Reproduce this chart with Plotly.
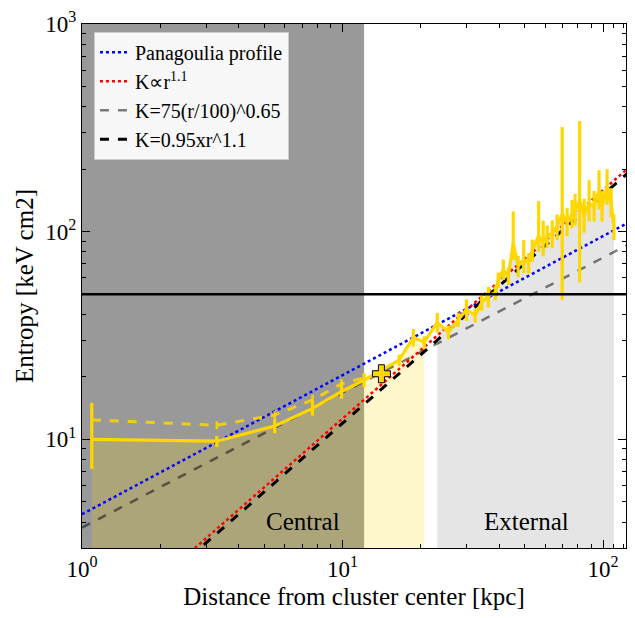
import plotly.graph_objects as go

# ---- data ----
r_data = [1.09, 3.29, 5.49, 7.67, 9.91, 12.1, 16.5, 18.7, 20.6, 23.1, 25.5, 27.8, 29.9, 32.3, 34.2,
          36.3, 38.6, 39.6, 41.4, 43.3, 45.2, 47.2, 49.6, 51.8, 53.5, 56.6, 58.9, 61.0, 63.8,
          66.6, 69.7, 72.8, 76.0, 78.1, 81.3, 84.6, 88.4, 92.4, 96.5, 99.1, 103.6, 107.4, 110.0]
K_data = [10.0, 9.8, 11.6, 14.1, 17.0, 19.3, 24.1, 31.0, 29.4, 36.6, 32.8, 37.8, 42.2, 39.5, 45.6,
          49.2, 50.8, 58.6, 65.5, 61.4, 88.1, 68.4, 73.1, 70.8, 81.6, 95.3, 88.1, 95.3, 98.4,
          106, 122, 110, 122, 127, 141, 119, 137, 132, 158, 132, 165, 137, 106]
K_err_hi = [5.0, 0.6, 0.9, 1.1, 1.3, 1.5, 1.5, 3, 2, 4, 2.5, 3, 5, 3, 4,
            5, 4, 5, 8, 6, 37, 8, 18, 8, 10, 45, 25, 12, 15,
            15, 197, 20, 20, 25, 200, 25, 40, 25, 40, 25, 35, 25, 15]
K_err_lo = [2.8, 0.6, 0.9, 1.1, 1.3, 1.5, 1.5, 3, 2, 4, 2.5, 3, 5, 3, 4,
            6, 4, 5, 7, 6, 15, 8, 10, 8, 10, 15, 12, 12, 15,
            15, 75, 15, 18, 20, 84, 20, 25, 20, 30, 20, 30, 20, 15]

r_dash = [1.09, 3.29, 5.49, 7.67, 9.91, 12.1]
K_dash = [12.4, 11.7, 13.1, 15.5, 18.5, 19.8]
K_dash_err = [0.0, 0.5, 0.6, 0.9, 1.0, 1.0]

r_marker = [14.1]
K_marker = [20.7]

central_max_r = 20.6
external_min_r = 23.1
core_span = [1.0, 12.1]
K_threshold = 50

r_model = [1.0, 125.0]
K_panagoulia = [4.36, 110.6]
K_prop = [1.0, 202.6]
K_75 = [3.76, 86.7]
K_095 = [0.95, 192.5]

x_ticks = [1, 10, 100]
x_ticktext = ["10<sup>0</sup>", "10<sup>1</sup>", "10<sup>2</sup>"]
y_ticks = [10, 100, 1000]
y_ticktext = ["10<sup>1</sup>", "10<sup>2</sup>", "10<sup>3</sup>"]
x_minor = [2, 3, 4, 5, 6, 7, 8, 9, 20, 30, 40, 50, 60, 70, 80, 90, 110, 120]
y_minor = [3, 4, 5, 6, 7, 8, 9, 20, 30, 40, 50, 60, 70, 80, 90,
           200, 300, 400, 500, 600, 700, 800, 900]

FONT = "Liberation Serif, Times New Roman, serif"
GOLD = "#FFD700"

fig = go.Figure()

# fills under the profile
rc = [r for r in r_data if r <= central_max_r]
kc = [k for r, k in zip(r_data, K_data) if r <= central_max_r]
fig.add_trace(go.Scatter(x=rc + rc[::-1], y=kc + [1.0] * len(rc), fill="toself",
                         fillcolor="rgba(255,215,0,0.2)", line=dict(width=0),
                         mode="lines", showlegend=False, hoverinfo="skip"))
re_ = [r for r in r_data if r >= external_min_r]
ke = [k for r, k in zip(r_data, K_data) if r >= external_min_r]
fig.add_trace(go.Scatter(x=re_ + re_[::-1], y=ke + [1.0] * len(re_), fill="toself",
                         fillcolor="#e5e5e5", line=dict(width=0),
                         mode="lines", showlegend=False, hoverinfo="skip"))

# model lines
fig.add_trace(go.Scatter(x=r_model, y=K_panagoulia, mode="lines", name="Panagoulia profile",
                         line=dict(color="blue", dash="dot", width=2.5)))
fig.add_trace(go.Scatter(x=r_model, y=K_prop, mode="lines", name="K\u221dr<sup>1.1</sup>",
                         line=dict(color="red", dash="dot", width=2.5)))
fig.add_trace(go.Scatter(x=r_model, y=K_75, mode="lines", name="K=75(r/100)^0.65",
                         line=dict(color="rgba(0,0,0,0.5)", dash="dash", width=2.5)))
fig.add_trace(go.Scatter(x=r_model, y=K_095, mode="lines", name="K=0.95xr^1.1",
                         line=dict(color="black", dash="dash", width=3)))

# data
fig.add_trace(go.Scatter(x=r_dash, y=K_dash, mode="lines", showlegend=False,
                         line=dict(color="rgba(255,215,0,0.85)", dash="dash", width=3),
                         error_y=dict(type="data", array=K_dash_err, color="rgba(255,215,0,0.85)",
                                      thickness=2.5, width=0)))
fig.add_trace(go.Scatter(x=r_data, y=K_data, mode="lines", showlegend=False,
                         line=dict(color=GOLD, width=3.2),
                         error_y=dict(type="data", array=K_err_hi, arrayminus=K_err_lo,
                                      color=GOLD, thickness=3.2, width=0)))
fig.add_trace(go.Scatter(x=r_marker, y=K_marker, mode="markers", showlegend=False,
                         marker=dict(symbol="cross", size=15, color=GOLD,
                                     line=dict(color="black", width=1))))

# core span & threshold
fig.add_shape(type="rect", xref="x", yref="paper", x0=core_span[0], x1=core_span[1], y0=0, y1=1,
              fillcolor="#999999", line=dict(width=0), layer="below")
fig.add_shape(type="line", xref="paper", yref="y", x0=0, x1=1, y0=K_threshold, y1=K_threshold,
              line=dict(color="black", width=2.5), layer="above")

fig.add_annotation(x=0.407, y=0.051, xref="paper", yref="paper", text="Central", showarrow=False,
                   xanchor="center", yanchor="middle",
                   font=dict(family=FONT, size=25, color="black"))
fig.add_annotation(x=0.8165, y=0.051, xref="paper", yref="paper", text="External", showarrow=False,
                   xanchor="center", yanchor="middle",
                   font=dict(family=FONT, size=25, color="black"))

axis_common = dict(type="log", showgrid=False, zeroline=False, showline=True, linecolor="black",
                   linewidth=1.2, mirror="allticks", ticks="inside", ticklen=8, tickwidth=1,
                   tickcolor="black", tickfont=dict(family=FONT, size=23, color="black"))

fig.update_xaxes(range=[0, 2.088], tickvals=x_ticks, ticktext=x_ticktext,
                 minor=dict(ticks="inside", ticklen=4, tickcolor="black", tickwidth=1,
                            showgrid=False, tickvals=x_minor),
                 title=dict(text="Distance from cluster center [kpc]",
                            font=dict(family=FONT, size=25, color="black"), standoff=6),
                 **axis_common)
fig.update_yaxes(range=[0.477, 3], tickvals=y_ticks, ticktext=y_ticktext,
                 minor=dict(ticks="inside", ticklen=4, tickcolor="black", tickwidth=1,
                            showgrid=False, tickvals=y_minor),
                 title=dict(text="Entropy [keV cm2]",
                            font=dict(family=FONT, size=25, color="black"), standoff=4),
                 **axis_common)

fig.update_layout(
    width=635, height=618,
    margin=dict(l=82, r=8, t=19, b=70),
    paper_bgcolor="white", plot_bgcolor="white",
    font=dict(family=FONT, color="black"),
    legend=dict(x=0.022, y=0.985, xanchor="left", yanchor="top",
                bgcolor="rgba(255,255,255,0.92)", bordercolor="#cccccc", borderwidth=1,
                font=dict(family=FONT, size=20, color="black"), itemwidth=30,
                tracegroupgap=4),
)

fig.write_html("out.html")
